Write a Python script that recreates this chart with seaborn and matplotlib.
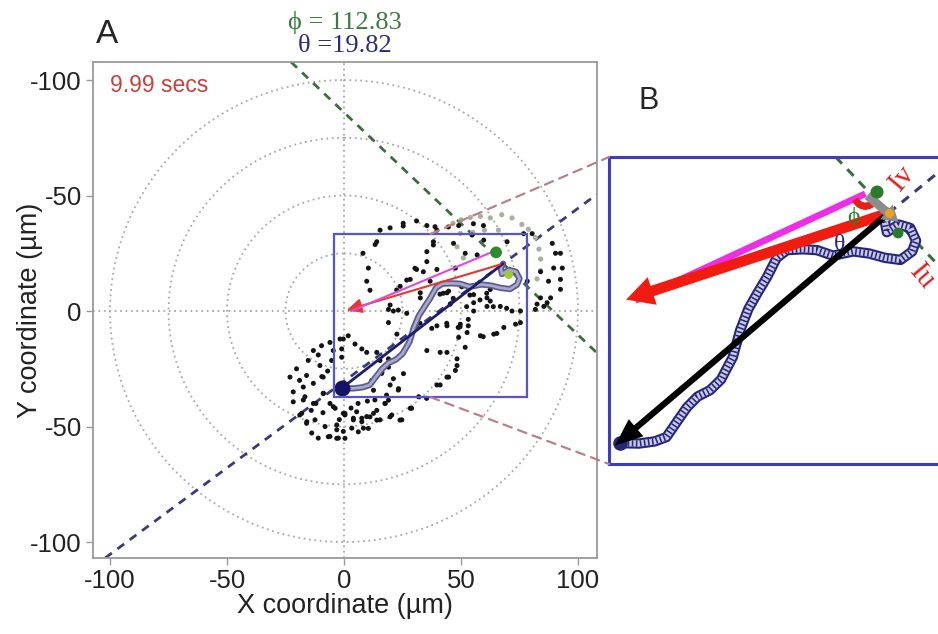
import matplotlib
matplotlib.use("Agg")
import matplotlib.pyplot as plt
import seaborn as sns
from matplotlib.patches import Circle, Rectangle, FancyArrowPatch, ConnectionPatch, Wedge

sns.set_style("white")
plt.rcParams['font.family'] = ['Liberation Sans', 'DejaVu Sans']
SERIF = ['Liberation Serif', 'DejaVu Serif']

# ---- data (µm) ----
dots_x = [-20.3, -23.1, -16, -13.1, -9.6, -6, -15.3, -10.3, -8.9, -17.4, -21.7, -16.7, -21.7, -18.9, -16,
          -12.4, -13.8, -11, -8.1, -6, -3.1, -2.4, -0.3, -4.6, -6, -8.9, -1, -0.3, -4.6, -5.3,
          -12, -14, -9, -2, 3, 6, 10, 14, -11, -7, -19,
          1.8, -1.7, 4.7, 7.6, -1, 9.7, 14, 15.4, 19, 19, 16.2, 11.9, 12.6, 19.7, 23.3, 25.4, 21.1,
          19, 21.1, 19, 22.6, 35.4, 41.1, 44, 39.7, 44, 32.6, 44.7, 48.3, 44, 39.7, 31.9, 28.3, 24.7,
          20.4, 15.4, 12.6, 9.7, 7.6, 8.3, 4, 3.3, -0.3, -3.1, 17.6, 19, 0.4,
          15.4, 19.7, 25.3, 31, 35.4, 39.7, 44.6, 49, 13.3, 8.1, 10.4, 9.7, 11.1, 35.4, 35.4, 31,
          33.9, 39.7, 28.3, 24, 36.8, 38.2, 41, 32.6,
          55.3, 59.6, 89, 90.4, 92.5, 93.3, 89.6, 87.4, 84, 92.5, 92.5, 88.3, 84, 86.8, 80.4, 76.8,
          54.7, 59.7, 46.8, 51.8, 56.9, 69.7, 47.6, 59.7, 62.5, 61.1, 55.4, 55.4, 44, 45.4, 62.5,
          82.5, 78.3,
          55.4, 61.1, 66.8, 71.8, 75.4, 49.7, 53.1, 53.1, 48.8, 52.6, 58.3, 64, 68.3, 73.3, 75.4,
          49, 51.8, 48.3, 47.6, 44.7, 41.1, 81.8, 85.4,
          -13.1, -9.5, -8.8, -17.4, -13.1, -3.8, 0.4, 5.4, 4, 7.6, 11.1, 14, 19.7, 23.9, 10.4, 6.1,
          0.4, -3.1, -6.7, -18.1, -15.9, 13.2, 17.5, 23.2, 16.1, 18.2, 28.9, 35.3,
          14, 25.3, 38.9, 38.2, 30.3, 26.8, 22.5, 19.7, 23.2, 26.8, 32.5, 37.5, 43.9, 49.6, 59.5,
          65.3, 42.4, 46.7, 50.3, 53.8, 58.1, 61, 63.8, 69.5, 52.4]
dots_y = [25, 28.6, 27.9, 17.1, 15, 13.6, 21.4, 23.6, 28.6, 32.9, 35, 37.1, 39.3, 45, 48.6,
          47.1, 52.8, 55, 50, 54.3, 51.4, 55, 44.3, 41.4, 40, 35.7, 16.4, 12.1, 17.1, 21.4,
          40, 43, 44, 47, 42, 40, 39, 43, 19, 26, 30,
          10.7, 12.1, 14.3, 16.4, 20, 17.9, 17.9, 21.4, 20.7, 24.3, 26.4, 30, 34.3, 32, 33.6, 27.1, 29.3,
          -0.7, 0, 5, 10, 17.1, 17.9, 17.9, 6.4, 6.4, -5.7, -8.6, 23.6, 28.6, 32, 37.1, 42.1, 47.1,
          45, 47.1, 44.3, 45.7, 47.9, 50.7, 47.1, 50.7, 52.1, 49.3, 40, 38.6, 44.3,
          -35, -36, -36.8, -39, -37, -35, -36.4, -37, -28.8, -25, -18.6, -12.9, -9, -25.7, -21.4, -18,
          -17, -18, -13.7, -10.7, -12.9, -28.6, -7.3, -7.9,
          -37.8, -37, -29.3, -25, -25, -18.6, -18.6, -12.9, -17, -13.7, -9.4, -5.7, -5.7, -3.6, -33.5, -33.5,
          -32.9, -30.7, -29.3, -25, -24.3, -30, -18.6, -11.4, -9.3, -5.7, -7.1, -3.6, -7.9, -3, -4.3,
          -3, -12.9,
          0, -2, -2, 0, 0, 5.7, 3.6, 6.4, 7.1, 9.3, 10.7, 10, 7.1, 5.7, 5,
          11.4, 15.7, 20.7, 25.7, 28.6, 32, -0.7, -2,
          31.3, 28.4, 35.6, 38.5, 40, 42.1, 45, 43.6, 46.4, 46.4, 45.8, 47.2, 45.8, 47.2, 50.8, 52.3,
          55.1, 55.1, 54.4, 44.3, 47.9, 38.5, 40, 34.2, 27, 36.4, 42.1, 37.8,
          -30, -38, -36.5, -30, -18.5, -13.4, -9.1, -2.6, -0.4, 1, 5.3, 7.5, 5.3, 6.8, 11.1,
          9.7, -7.7, -5.5, -10.5, -6.9, -4.8, -7.7, -1.9, -1.2, -1.9]

gray_x = [46.6, 50, 54, 58.3, 62.5, 67.4, 71.8, 76, 78.8, 81.8, 83.3, 84, 84, 82.5, 49.7, 48.3, 51, 55, 60, 66]
gray_y = [-38, -39.5, -40.5, -41, -40.3, -41.7, -40.3, -37.5, -35.4, -31.8, -26.8, -22.5, -17.5, -13.9,
          -33.6, -27.8, -23, -34, -35, -35]

traj_x = [-1, 4, 8, 11, 14, 16.3, 19, 22.2, 25, 28, 29.9, 32, 34.5, 36.8, 39.3, 41.9, 46, 49.6, 53.7,
          58.9, 63, 67, 71, 74, 75, 73.5, 70.5, 67.5, 67, 68]
traj_y = [33.4, 33.5, 33, 32, 28, 25, 22.5, 21, 18.5, 13.3, 7, 2, -2, -5.5, -10, -11.8, -12, -11.8, -10.5,
          -11.5, -11, -10, -9.5, -11.5, -14, -17, -17.8, -16, -18.5, -20.5]

cell_pos = (68, -20.5)      # current position
front_pos = (62, -25)       # leading edge
head_pos = (71, -18)
origin = (0, 0)
mag_end = (3, 0)
start_pos = (-1, 33.4)
black_end = (-2.7, 34.4)
green_slope = 0.963
navy_slope = -0.749
ray_end_x = 95
green_marks_x = [65, 70.4]
green_marks_y = [-25.4, -15.8]

ring_radii = [25, 50, 75, 100]
zoom_rect = (-4.3, -33.4, 82.7, 70.7)   # x0, y0, width, height
conn_x = 37

xticks = [-100, -50, 0, 50, 100]
xtick_labels = ['-100', '-50', '0', '50', '100']
yticks = [-100, -50, 0, 50, 100]
ytick_labels = ['-100', '-50', '0', '-50', '-100']

phi_text = 'ϕ = 112.83'
theta_text = 'θ =19.82'
time_text = '9.99 secs'

NAVY = '#25257c'
GREEN_D = '#3b6e3b'
NAVY_D = '#3a3a78'
DOT = (0, (1, 2))

fig = plt.figure(figsize=(9.38, 6.34), dpi=100)
axA = fig.add_axes([0.0991, 0.1199, 0.5373, 0.7823])
axB = fig.add_axes([0.6493, 0.2681, 0.3635, 0.4842])

# ---------------- panel A ----------------
for r in ring_radii:
    axA.add_patch(Circle((0, 0), r, fill=False, ls=DOT, lw=1.3, ec='#a8a8a8', zorder=1))
axA.axhline(0, ls=DOT, lw=1.3, color='#a8a8a8', zorder=1)
axA.axvline(0, ls=DOT, lw=1.3, color='#a8a8a8', zorder=1)

axA.axline(cell_pos, slope=green_slope, color=GREEN_D, lw=2, ls=(0, (3, 2.5)), zorder=2)
axA.axline(cell_pos, slope=navy_slope, color=NAVY_D, lw=2, ls=(0, (3, 2.5)), zorder=2)

sns.scatterplot(x=gray_x, y=gray_y, ax=axA, color='#a9b09c', s=14, edgecolor='none', zorder=3)
sns.scatterplot(x=dots_x, y=dots_y, ax=axA, color='#141414', s=13, edgecolor='none', zorder=3)

sns.lineplot(x=traj_x, y=traj_y, ax=axA, sort=False, estimator=None, color='#5a5a96', lw=4.5,
             zorder=4)
axA.lines[-1].set_solid_capstyle('round')
axA.plot(traj_x, traj_y, color='#a9a9c6', lw=2, zorder=4, solid_capstyle='round')

axA.plot([cell_pos[0], start_pos[0]], [cell_pos[1], start_pos[1]], color='#1d1d6b', lw=2, zorder=5)
axA.add_patch(FancyArrowPatch(cell_pos, origin, arrowstyle='-|>,head_length=0.45,head_width=0.22',
                              mutation_scale=20, lw=1.5, color='#e6382e', zorder=5))
axA.plot([front_pos[0], mag_end[0]], [front_pos[1], mag_end[1]], color='#e04ad8', lw=1.5, zorder=5)
axA.scatter([start_pos[0]], [start_pos[1]], s=110, color='#141464', zorder=6)
axA.scatter(green_marks_x, green_marks_y, s=[55, 28], color=['#2e8b2e', '#9acd32'], zorder=6)

x0, y0, w, h = zoom_rect
axA.add_patch(Rectangle((x0, y0), w, h, fill=False, ec='#5656c8', lw=1.6, zorder=7))

axA.text(-100, -97.8, time_text, color='#c6413c', fontsize=16.5, ha='left', va='center')

axA.set_xlim(-107.3, 108.1)
axA.set_ylim(106.9, -107.8)
axA.set_xticks(xticks)
axA.set_xticklabels(xtick_labels)
axA.set_yticks(yticks)
axA.set_yticklabels(ytick_labels)
axA.tick_params(labelsize=18.5, length=5, width=1, color='#999999', labelcolor='#222222',
                pad=3, direction='out', bottom=True, left=True)
for s in axA.spines.values():
    s.set_color('#9a9a9a')
    s.set_linewidth(1.3)
axA.set_xlabel('X coordinate (µm)', fontsize=19.5, color='#222222')
axA.set_ylabel('Y coordinate (µm)', fontsize=19.5, color='#222222')
axA.xaxis.set_label_coords(0.5, -0.07)
axA.yaxis.set_label_coords(-0.1, 0.5)

# ---------------- panel B ----------------
axB.axline(cell_pos, slope=green_slope, color=GREEN_D, lw=2.2, ls=(0, (3, 2.5)), zorder=2)
axB.plot([cell_pos[0], ray_end_x], [cell_pos[1], cell_pos[1] + navy_slope * (ray_end_x - cell_pos[0])],
         color=NAVY_D, lw=2.2, ls=(0, (3, 2.5)), zorder=2)

axB.plot(traj_x, traj_y, color=NAVY, lw=7.5, zorder=3, solid_capstyle='round', solid_joinstyle='round')
axB.plot(traj_x, traj_y, color='#cacae4', lw=4.5, zorder=3, solid_joinstyle='round')
axB.plot(traj_x, traj_y, color=NAVY, lw=4.5, zorder=3, ls=(0, (0.25, 0.4)), dash_capstyle='butt')
axB.scatter([start_pos[0]], [start_pos[1]], s=90, color=NAVY, zorder=4)

axB.plot([front_pos[0], mag_end[0]], [front_pos[1], mag_end[1]], color='#ee2ee6', lw=4.8,
         solid_capstyle='butt', zorder=5)
axB.add_patch(FancyArrowPatch(cell_pos, origin,
                              arrowstyle='simple,head_length=0.9,head_width=0.95,tail_width=0.35',
                              mutation_scale=22, color='#f01c12', lw=0, zorder=6))
axB.add_patch(FancyArrowPatch(cell_pos, black_end,
                              arrowstyle='simple,head_length=1.1,head_width=0.9,tail_width=0.25',
                              mutation_scale=18, color='black', lw=0, zorder=7))
axB.add_patch(Wedge(front_pos, 3.6, 38, 150, width=1.4, color='#e8201a', zorder=6))
axB.add_patch(FancyArrowPatch(front_pos, head_pos,
                              arrowstyle='simple,head_length=0.8,head_width=1.0,tail_width=0.45',
                              mutation_scale=14, color='#8c8c8c', lw=0, zorder=7))
axB.scatter(green_marks_x, green_marks_y, s=[70, 45], color='#2a7a2a', zorder=8)
axB.scatter([cell_pos[0]], [cell_pos[1]], s=30, color='#f0a020', zorder=9)

axB.text(58.9, -19.5, 'ϕ', color='#2f7d2f', fontsize=17, family=SERIF, ha='center', va='center', zorder=9)
axB.text(55.5, -13, 'θ', color='#262680', fontsize=17, family=SERIF, ha='center', va='center', zorder=9)
axB.text(71.4, -28.6, 'Iv', color='#e02020', fontsize=21, family=SERIF, rotation=50,
         ha='center', va='center', zorder=9)
axB.text(76.5, -5.5, 'Iu', color='#e02020', fontsize=21, family=SERIF, rotation=-50,
         ha='center', va='center', zorder=9)

axB.set_xlim(-3.7, 83.7)
axB.set_ylim(38.3, -33.6)
axB.set_xticks([])
axB.set_yticks([])
for s in axB.spines.values():
    s.set_color('#3c3cc8')
    s.set_linewidth(2.2)

# zoom connectors
for yA, yB in [(y0, 1), (y0 + h, 0)]:
    con = ConnectionPatch(xyA=(conn_x, yA), coordsA=axA.transData, xyB=(0, yB), coordsB=axB.transAxes,
                          color='#b8808a', ls=(0, (4, 3)), lw=1.6)
    fig.add_artist(con)

# titles / panel letters
fig.text(0.1146, 0.946, 'A', fontsize=24, ha='center', va='center')
fig.text(0.692, 0.841, 'B', fontsize=22, ha='center', va='center')
fig.text(0.3673, 0.965, phi_text, color='#3d7a3d', fontsize=19, family=SERIF, ha='center', va='center')
fig.text(0.3673, 0.927, theta_text, color='#2c2c7c', fontsize=19, family=SERIF, ha='center', va='center')

fig.savefig('out.png', dpi=100)
